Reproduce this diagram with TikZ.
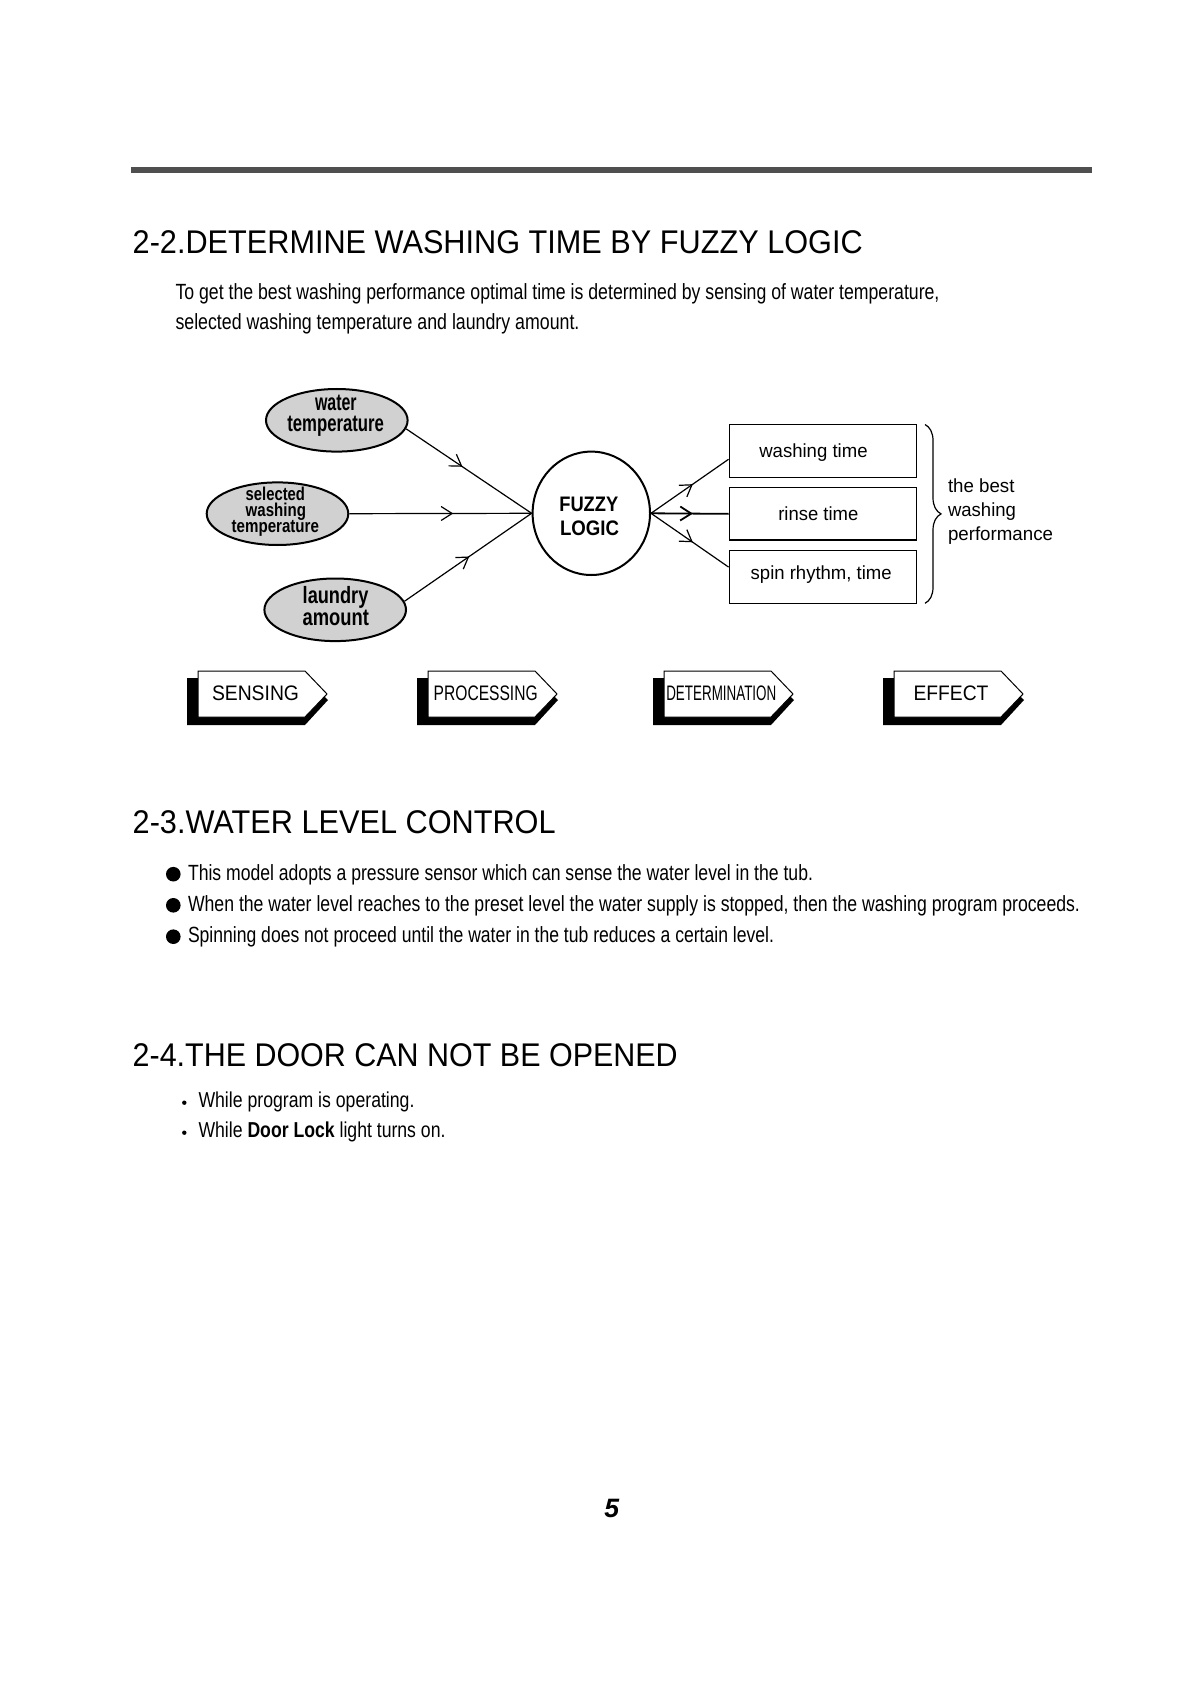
\documentclass[tikz,border=0pt]{standalone}
\usepackage{fontspec}
\setmainfont{Liberation Sans}
\usepackage{graphicx}
\usetikzlibrary{shapes.geometric,arrows.meta,decorations.markings,decorations.pathreplacing}
\newcommand\fw[2]{\resizebox{\dimexpr #1pt/2\relax}{\height}{#2}}
\newcommand\hd{\fontsize{16.4pt}{20pt}\selectfont}
\newcommand\bd{\fontsize{11pt}{13pt}\selectfont}
\newcommand\badge[1]{%
  \fill ({#1-11},678) -- ({#1+107},678) -- ({#1+130},700) -- ({#1+107},725) -- ({#1-11},725) -- cycle;
  \filldraw[fill=white,draw=black,line width=0.5pt] (#1,671) -- ({#1+107},671) -- ({#1+129},694) -- ({#1+107},717) -- (#1,717) -- cycle;}
\tikzset{
  txt/.style={inner sep=0pt,outer sep=0pt,anchor=base west},
  ell/.style={ellipse,draw,line width=1pt,fill=black!18,minimum width=70.8pt,minimum height=31.3pt,inner sep=0pt},
  fuzzy/.style={ellipse,draw,line width=1pt,minimum width=58.7pt,minimum height=61.7pt,inner sep=0pt},
  resbox/.style={rectangle,draw,line width=0.75pt,minimum width=93.7pt,minimum height=26.3pt,inner sep=0pt},
  con/.style={line width=0.6pt},
  midarrow/.style={postaction={decorate},decoration={markings,mark=at position #1 with {\arrow{Straight Barb[length=5.5pt,width=7pt]}}}},
  dot/.style={circle,fill=black,inner sep=0pt}
}
\begin{document}
\begin{tikzpicture}[x=0.5pt,y=-0.5pt]
\useasboundingbox (0,0) rectangle (1191,1684);
\fill[white] (0,0) rectangle (1191,1684);
% top bar
\fill[black!69] (131,166.7) rectangle (1092,172.7);
% section 2-2
\node[txt] (h22) at (132.7,253.3) {\hd\fw{730}{2-2.DETERMINE WASHING TIME BY FUZZY LOGIC}};
\node[txt] (i1) at (175.5,300) {\bd\fw{764}{To get the best washing performance optimal time is determined by sensing of water temperature,}};
\node[txt] (i2) at (175.5,330) {\bd\fw{404}{selected washing temperature and laundry amount.}};
% input ellipses
\node[ell] (wt) at (336.8,420.3) {};
\node[ell] (sw) at (277.5,513.7) {};
\node[ell] (la) at (335.2,609.8) {};
\node[txt] (wt1) at (315,410) {\fontsize{11.8pt}{14pt}\selectfont\bfseries\fw{41.7}{water}};
\node[txt] (wt2) at (287.3,431.7) {\fontsize{11.8pt}{14pt}\selectfont\bfseries\fw{96.7}{temperature}};
\node[txt] (sw1) at (245.7,501) {\fontsize{9.3pt}{11pt}\selectfont\bfseries\fw{59.3}{selected}};
\node[txt] (sw2) at (245.7,516.7) {\fontsize{9.3pt}{11pt}\selectfont\bfseries\fw{60.3}{washing}};
\node[txt] (sw3) at (231.7,532.7) {\fontsize{9.3pt}{11pt}\selectfont\bfseries\fw{87.3}{temperature}};
\node[txt] (la1) at (302.7,603.3) {\fontsize{11.8pt}{14pt}\selectfont\bfseries\fw{65.7}{laundry}};
\node[txt] (la2) at (302.7,625) {\fontsize{11.8pt}{14pt}\selectfont\bfseries\fw{66.3}{amount}};
% fuzzy logic
\node[fuzzy] (fz) at (591.3,513.3) {};
\node[txt] (fz1) at (559.3,511.7) {\fontsize{10.5pt}{12pt}\selectfont\bfseries\fw{59}{FUZZY}};
\node[txt] (fz2) at (560,535.7) {\fontsize{10.5pt}{12pt}\selectfont\bfseries\fw{59}{LOGIC}};
% result boxes
\node[resbox] (b1) at (823,451) {};
\node[resbox] (b2) at (823,513.85) {};
\node[resbox] (b3) at (823,577) {};
\node[txt] (b1t) at (759.3,457.7) {\fontsize{9.5pt}{11pt}\selectfont\fw{108.3}{washing time}};
\node[txt] (b2t) at (778.3,520) {\fontsize{9.5pt}{11pt}\selectfont\fw{80}{rinse time}};
\node[txt] (b3t) at (750.7,579.3) {\fontsize{9.5pt}{11pt}\selectfont\fw{141}{spin rhythm, time}};
% connectors
\draw[con,midarrow=0.45] (wt.-7) -- (fz.west);
\draw[con,midarrow=0.57] (sw.east) -- (fz.west);
\draw[con,midarrow=0.51] (la.7) -- (fz.west);
\draw[con,midarrow=0.54] (fz.east) -- (b1.185);
\draw[line width=0.9pt,midarrow=0.54] (fz.east) -- (b2.west);
\draw[con,midarrow=0.54] (fz.east) -- (b3.174.5);
% brace
\coordinate (brt) at (925,424.5);
\coordinate (brb) at (925,603.3);
\draw[line width=0.6pt,decorate,decoration={brace,amplitude=8pt}] (brt) -- (brb);
\node[txt] (e1) at (948,492) {\fontsize{9.5pt}{11pt}\selectfont\fw{66.5}{the best}};
\node[txt] (e2) at (948,516) {\fontsize{9.5pt}{11pt}\selectfont\fw{68}{washing}};
\node[txt] (e3) at (948,540) {\fontsize{9.5pt}{11pt}\selectfont\fw{105}{performance}};
% stage badges
\badge{198}
\badge{428}
\badge{664}
\badge{894}
\node[txt] (s1) at (212,700) {\fontsize{10.5pt}{12pt}\selectfont\fw{87}{SENSING}};
\node[txt] (s2) at (433.7,700) {\fontsize{10.5pt}{12pt}\selectfont\fw{104}{PROCESSING}};
\node[txt] (s3) at (666.3,700) {\fontsize{10.5pt}{12pt}\selectfont\fw{110}{DETERMINATION}};
\node[txt] (s4) at (913.5,700) {\fontsize{10.5pt}{12pt}\selectfont\fw{75}{EFFECT}};
% section 2-3
\node[txt] (h23) at (132.7,833.3) {\hd\fw{423}{2-3.WATER LEVEL CONTROL}};
\node[dot,minimum size=7.3pt] (d1) at (173.3,874.2) {};
\node[dot,minimum size=7.3pt] (d2) at (173.3,905.3) {};
\node[dot,minimum size=7.3pt] (d3) at (173.3,936.7) {};
\node[txt] (w1) at (188,880) {\bd\fw{625}{This model adopts a pressure sensor which can sense the water level in the tub.}};
\node[txt] (w2) at (188,911) {\bd\fw{892}{When the water level reaches to the preset level the water supply is stopped, then the washing program proceeds.}};
\node[txt] (w3) at (188,942) {\bd\fw{586}{Spinning does not proceed until the water in the tub reduces a certain level.}};
% section 2-4
\node[txt] (h24) at (132.7,1066.7) {\hd\fw{545}{2-4.THE DOOR CAN NOT BE OPENED}};
\node[dot,minimum size=2.2pt] (p1) at (184.3,1102.7) {};
\node[dot,minimum size=2.2pt] (p2) at (184.3,1132.7) {};
\node[txt] (o1) at (198.5,1107.3) {\fontsize{10.8pt}{13pt}\selectfont\fw{216}{While program is operating.}};
\node[txt] (o2) at (198.5,1137.3) {\fontsize{10.8pt}{13pt}\selectfont\fw{247}{While \textbf{Door Lock} light turns on.}};
% page number
\node[inner sep=0pt,anchor=base] (pg) at (611.7,1517.3) {\fontsize{13.3pt}{16pt}\selectfont\bfseries\itshape 5};
\end{tikzpicture}
\end{document}
